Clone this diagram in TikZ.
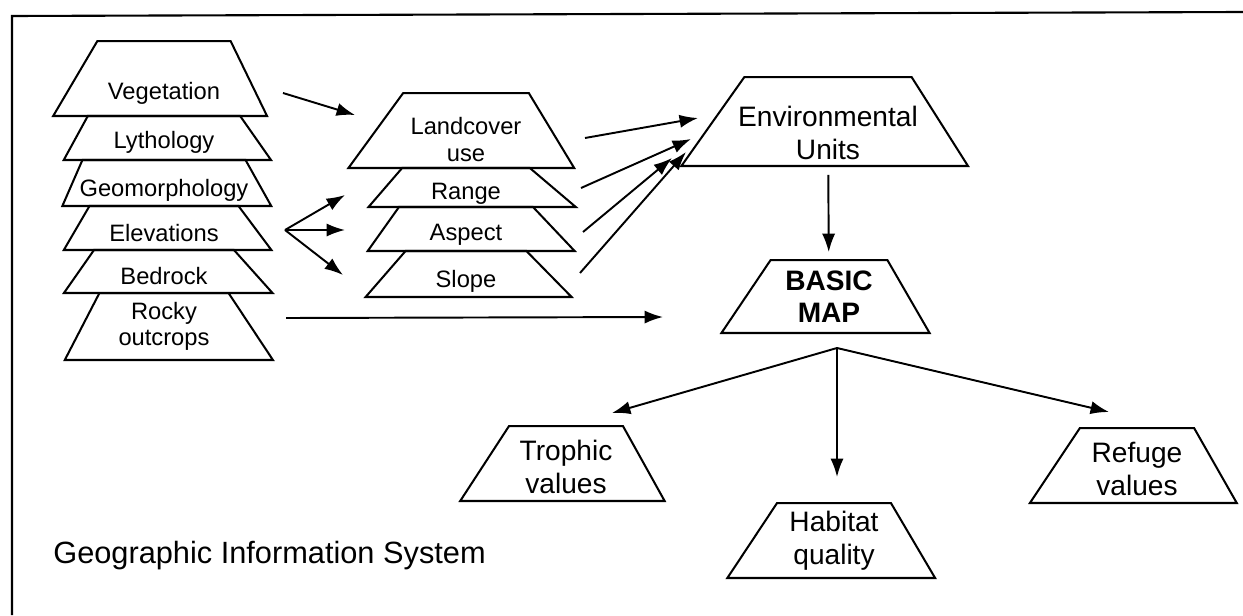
\documentclass[tikz,border=0pt]{standalone}
\usepackage{fontspec}
\setmainfont{Liberation Sans}
\usetikzlibrary{shapes.geometric,positioning,arrows.meta}

\tikzset{
  trap/.style={draw, line width=1.15pt, trapezium, trapezium stretches=true,
    outer sep=0pt, inner sep=1pt, align=center,
    trapezium left angle=57, trapezium right angle=60},
  gislayer/.style={trap, font=\fontsize{13.5}{15.5}\selectfont,
    minimum width=4.18cm, trapezium left angle=64, trapezium right angle=58},
  onerow/.style={text height=16pt, text depth=2.7pt},
  mapbox/.style={trap, font=\fontsize{16}{18.5}\selectfont,
    minimum width=4.16cm, minimum height=1.5cm},
  arr/.style={line width=1.1pt, -{Latex[length=10.5pt,width=7.5pt]}},
  frame/.style={line width=1.2pt}
}

\begin{document}
\begin{tikzpicture}[x=0.02cm, y=-0.02cm]
    \useasboundingbox (0,0) rectangle (1243,615);
    \draw[frame] (12,615) -- (12,16) -- (1243,12);

    % input layers
    \node[gislayer, onerow, text height=26.5pt, minimum width=4.28cm, minimum height=1.5cm,
      trapezium left angle=55, trapezium right angle=60, anchor=south] (veg) at (164,116) {Vegetation};
    \node[gislayer, onerow, text height=14.5pt, minimum height=0.88cm, below=0pt of veg] (lyth) {Lythology};
    \node[gislayer, onerow, text height=17.5pt, minimum height=0.92cm, inner xsep=-4pt, below=0pt of lyth] (geo) {Geomorphology};
    \node[gislayer, onerow, text height=18pt, minimum height=0.88cm, below=0pt of geo] (elev) {Elevations};
    \node[gislayer, onerow, text height=18pt, minimum height=0.86cm, below=0pt of elev] (bed) {Bedrock};
    \node[gislayer, font=\fontsize{13.5}{15}\selectfont, minimum height=1.34cm,
      below=0pt of bed] (rocky) {Rocky\\outcrops};

    % derived layers
    \node[gislayer, text height=35.5pt, minimum width=4.52cm, minimum height=1.5cm,
      trapezium left angle=53, trapezium right angle=58, anchor=south] (land) at (466,168) {Landcover\\use};
    \node[gislayer, onerow, minimum width=4.16cm, minimum height=0.78cm,
      trapezium left angle=62, trapezium right angle=54, below=0pt of land] (range) {Range};
    \node[gislayer, onerow, minimum width=4.16cm, minimum height=0.88cm,
      trapezium left angle=64, trapezium right angle=57, below=0pt of range] (aspect) {Aspect};
    \node[gislayer, onerow, text height=18pt, minimum width=4.14cm, minimum height=0.92cm,
      trapezium left angle=62, trapezium right angle=59, below=0pt of aspect] (slope) {Slope};

    % maps
    \node[mapbox, text height=43pt, inner xsep=-6pt, minimum width=5.74cm, minimum height=1.78cm,
      trapezium left angle=53, trapezium right angle=56, anchor=south] (env) at (828,166) {Environmental\\Units};
    \node[mapbox, font=\fontsize{16}{18}\selectfont\bfseries, minimum width=4.18cm, minimum height=1.46cm,
      trapezium left angle=55, trapezium right angle=59, anchor=south] (basic) at (829,333) {BASIC\\MAP};
    \node[mapbox, text height=34pt, minimum width=4.12cm, trapezium right angle=61, anchor=south] (troph) at (566,501) {Trophic\\values};
    \node[mapbox, anchor=south] (hab) at (834,578) {Habitat\\quality};
    \node[mapbox, text height=34pt, minimum width=4.18cm, trapezium right angle=61, anchor=south] (ref) at (1137,503) {Refuge\\values};

    \node[font=\fontsize{17.5}{20}\selectfont, inner sep=0pt, anchor=base west] (gis) at (53,563) {Geographic Information System};

    % arrow ends
    \coordinate (vegout) at (283,93);
    \coordinate (landin) at (355,115);
    \coordinate (elevout) at (285,230);
    \coordinate (rangein) at (345,195);
    \coordinate (aspectin) at (345,230);
    \coordinate (slopein) at (343,275);
    \coordinate (rockyout) at (286,318);
    \coordinate (basicin) at (663,317);
    \coordinate (landout) at (585,138);
    \coordinate (rangeout) at (581,188);
    \coordinate (aspectout) at (583,232);
    \coordinate (slopeout) at (580,273);
    \coordinate (envin1) at (698,118);
    \coordinate (envin2) at (691,139);
    \coordinate (envin3) at (672,158);
    \coordinate (envin4) at (686,152);
    \coordinate (fork) at (837,348);
    \coordinate (trophin) at (612,413);
    \coordinate (habin) at (837,477);
    \coordinate (refin) at (1109,412);

    \draw[arr] (vegout) -- (landin);
    \foreach \n in {rangein,aspectin,slopein} \draw[arr] (elevout) -- (\n);
    \draw[arr] (rockyout) -- (basicin);
    \foreach \a/\b in {landout/envin1,rangeout/envin2,aspectout/envin3,slopeout/envin4}
      \draw[arr] (\a) -- (\b);
    \draw[arr, shorten <=5pt, shorten >=4.5pt] (env) -- (basic);
    \foreach \n in {trophin,habin,refin} \draw[arr] (fork) -- (\n);
\end{tikzpicture}
\end{document}
